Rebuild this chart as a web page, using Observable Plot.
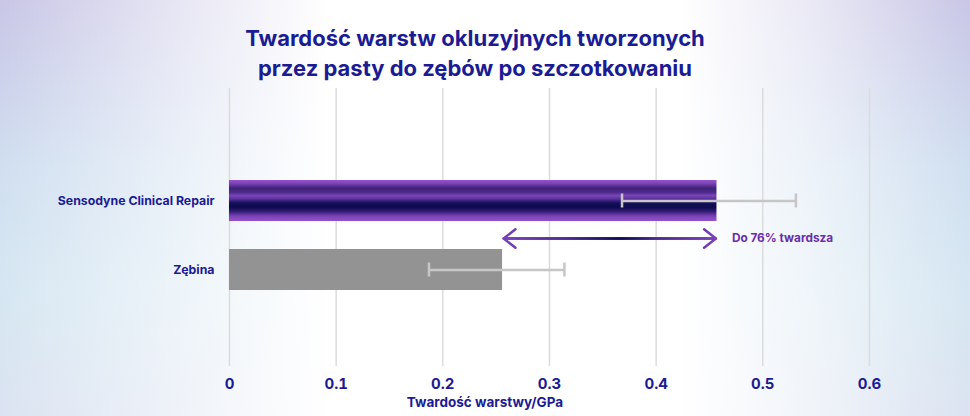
<!DOCTYPE html>
<html><head><meta charset="utf-8">
<script src="https://cdn.jsdelivr.net/npm/d3@7"></script>
<script src="https://cdn.jsdelivr.net/npm/@observablehq/plot@0.6"></script>
<style>
html,body{margin:0;padding:0;width:970px;height:416px;overflow:hidden;}
body{position:relative;font-family:Inter,"Noto Sans",sans-serif;
background:
 linear-gradient(90deg, rgba(255,255,255,0) 0%, rgba(255,255,255,0.55) 18%, #ffffff 34%, #ffffff 70%, rgba(255,255,255,0.6) 84%, rgba(255,255,255,0) 100%),
 linear-gradient(180deg, #c9c6e6 0%, #d0dff0 40%, #d6e7f2 70%, #dbe3f1 100%);}
#title{position:absolute;top:23px;left:0;width:950px;text-align:center;color:#1b1b94;font-weight:700;font-size:22px;line-height:30px;}
#chart{position:absolute;top:86px;left:0;}
#xlabel{position:absolute;top:394px;left:485px;transform:translateX(-50%);color:#1b1b94;font-weight:700;font-size:13.5px;line-height:16px;white-space:nowrap;}
</style></head>
<body>
<div id="title"></div>
<div id="chart"></div>
<div id="xlabel"></div>
<script>
const titleLines = ["Twardość warstw okluzyjnych tworzonych", "przez pasty do zębów po szczotkowaniu"];
const categories = ["Sensodyne Clinical Repair", "Zębina"];
const values = [0.457, 0.256];
const errLow = [0.368, 0.187];
const errHigh = [0.531, 0.314];
const xTicks = [0, 0.1, 0.2, 0.3, 0.4, 0.5, 0.6];
const xLabel = "Twardość warstwy/GPa";
const annotationText = ["Do 76% twardsza"];
const annotationFrom = [0.257];
const annotationTo = [0.456];

document.getElementById("title").innerHTML = titleLines.join("<br>");
document.getElementById("xlabel").textContent = xLabel;

const rows = categories.map((c, i) => ({name: c, value: values[i], lo: errLow[i], hi: errHigh[i]}));
const ann = annotationText.map((t, i) => ({text: t, from: annotationFrom[i], to: annotationTo[i], row: categories[1]}));

const navy = "#1b1b94";
const errColor = "#c6c6c6";

const chart = Plot.plot({
  width: 970,
  height: 306,
  marginTop: 2,
  marginBottom: 26,
  marginLeft: 229,
  marginRight: 101,
  style: {color: navy, background: "transparent", fontFamily: "Inter, 'Noto Sans', sans-serif"},
  x: {domain: [0, 0.6]},
  y: {domain: categories, range: [94, 204], paddingInner: 0.406, paddingOuter: 0},
  marks: [
    Plot.gridX(xTicks, {stroke: "#dcdcdc", strokeOpacity: 1, strokeWidth: 1.5}),
    Plot.barX(rows.filter(d => d.name === categories[0]), {x: "value", y: "name", fill: "url(#sensGrad)"}),
    Plot.barX(rows.filter(d => d.name === categories[1]), {x: "value", y: "name", fill: "#939393"}),
    Plot.ruleY(rows, {y: "name", x1: "lo", x2: "hi", stroke: errColor, strokeWidth: 2.5}),
    Plot.tickX(rows, {x: "lo", y: "name", stroke: errColor, strokeWidth: 2.5, insetTop: 13.5, insetBottom: 13.5}),
    Plot.tickX(rows, {x: "hi", y: "name", stroke: errColor, strokeWidth: 2.5, insetTop: 13.5, insetBottom: 13.5}),
    Plot.arrow(ann, {x1: "from", x2: "to", y1: "row", y2: "row", dy: -31.5, bend: 0, stroke: "url(#arrowGrad)", strokeWidth: 2.5, headLength: 9, headAngle: 76}),
    Plot.arrow(ann, {x1: "to", x2: "from", y1: "row", y2: "row", dy: -31.5, bend: 0, stroke: "url(#arrowGrad)", strokeWidth: 2.5, headLength: 9, headAngle: 76}),
    Plot.text(ann, {x: "to", y: "row", dy: -31.5, dx: 16, text: "text", textAnchor: "start", fill: "#6a2ea8", fontSize: 11.8, fontWeight: 700}),
    Plot.axisX(xTicks, {tickSize: 0, tickPadding: 12, tickFormat: d => String(d), fontSize: 15, fontWeight: 700, label: null}),
    Plot.axisY({tickSize: 0, tickPadding: 15, fontSize: 12.3, fontWeight: 700, label: null})
  ]
});

const svg = d3.select(chart);
const defs = svg.insert("defs", ":first-child");
const g1 = defs.append("linearGradient").attr("id", "sensGrad").attr("x1", 0).attr("y1", 0).attr("x2", 0).attr("y2", 1);
[[0, "#9552ca"], [0.08, "#7c44b8"], [0.2, "#3e2276"], [0.3, "#4d2a8c"], [0.38, "#7b45b8"], [0.46, "#5a329c"], [0.56, "#140f5a"], [0.66, "#0c0a4e"], [0.76, "#2f1a70"], [0.88, "#7a42b8"], [1, "#9552ca"]]
  .forEach(([o, c]) => g1.append("stop").attr("offset", o).attr("stop-color", c));
const g2 = defs.append("linearGradient").attr("id", "arrowGrad").attr("x1", 0).attr("y1", 0).attr("x2", 1).attr("y2", 0);
[[0, "#7a40ba"], [0.3, "#4a2a90"], [0.55, "#0c0c52"], [0.72, "#4a2a90"], [1, "#7a40ba"]]
  .forEach(([o, c]) => g2.append("stop").attr("offset", o).attr("stop-color", c));

document.getElementById("chart").appendChild(chart);
</script>
</body></html>
